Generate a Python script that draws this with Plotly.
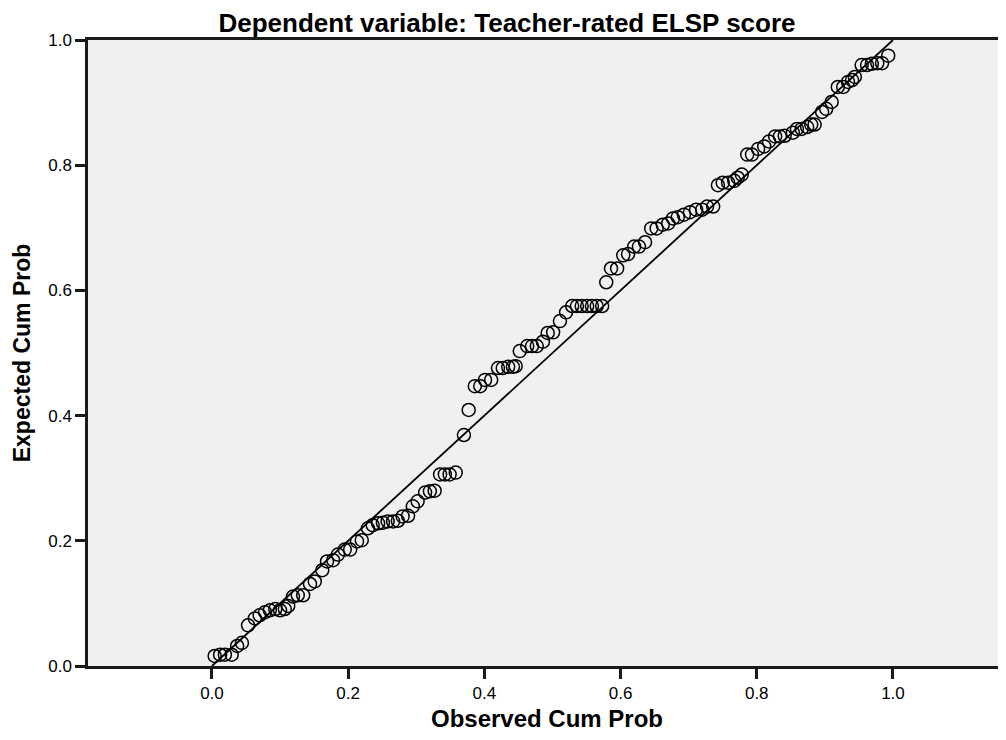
import plotly.graph_objects as go

observed = [0.004, 0.012, 0.019, 0.029, 0.037, 0.044, 0.053, 0.063, 0.070, 0.078,
            0.085, 0.093, 0.100, 0.107, 0.112, 0.119, 0.126, 0.134, 0.144, 0.151,
            0.162, 0.169, 0.178, 0.185, 0.195, 0.203, 0.213, 0.220, 0.229, 0.236,
            0.244, 0.251, 0.258, 0.266, 0.273, 0.280, 0.288, 0.295, 0.302, 0.313,
            0.320, 0.327, 0.335, 0.342, 0.349, 0.358, 0.370, 0.377, 0.386, 0.394,
            0.401, 0.410, 0.420, 0.427, 0.435, 0.442, 0.446, 0.452, 0.463, 0.470,
            0.477, 0.486, 0.493, 0.501, 0.511, 0.520, 0.529, 0.536, 0.543, 0.551,
            0.558, 0.565, 0.573, 0.579, 0.586, 0.595, 0.604, 0.611, 0.620, 0.627,
            0.636, 0.645, 0.653, 0.662, 0.670, 0.677, 0.684, 0.693, 0.702, 0.711,
            0.720, 0.727, 0.736, 0.743, 0.750, 0.758, 0.767, 0.772, 0.778, 0.786,
            0.793, 0.802, 0.811, 0.818, 0.827, 0.834, 0.841, 0.853, 0.859, 0.866,
            0.874, 0.880, 0.885, 0.896, 0.902, 0.910, 0.919, 0.927, 0.934, 0.940,
            0.944, 0.954, 0.962, 0.969, 0.977, 0.984, 0.993]

expected = [0.016, 0.018, 0.018, 0.018, 0.032, 0.037, 0.065, 0.076, 0.081, 0.086,
            0.089, 0.091, 0.089, 0.091, 0.096, 0.111, 0.113, 0.113, 0.131, 0.135,
            0.153, 0.167, 0.169, 0.178, 0.186, 0.186, 0.199, 0.201, 0.220, 0.225,
            0.228, 0.229, 0.231, 0.231, 0.232, 0.239, 0.240, 0.255, 0.263, 0.277,
            0.279, 0.280, 0.306, 0.306, 0.306, 0.309, 0.369, 0.409, 0.447, 0.447,
            0.457, 0.457, 0.476, 0.476, 0.478, 0.478, 0.479, 0.503, 0.511, 0.511,
            0.511, 0.518, 0.532, 0.533, 0.551, 0.565, 0.575, 0.575, 0.575, 0.575,
            0.575, 0.575, 0.575, 0.613, 0.635, 0.635, 0.656, 0.658, 0.670, 0.670,
            0.677, 0.699, 0.699, 0.705, 0.707, 0.715, 0.717, 0.721, 0.725, 0.729,
            0.729, 0.734, 0.734, 0.768, 0.772, 0.772, 0.775, 0.780, 0.785, 0.817,
            0.817, 0.826, 0.830, 0.838, 0.846, 0.846, 0.847, 0.852, 0.858, 0.858,
            0.861, 0.865, 0.865, 0.885, 0.890, 0.901, 0.925, 0.925, 0.933, 0.936,
            0.941, 0.960, 0.960, 0.962, 0.963, 0.963, 0.975]

ref_line = [0.0, 1.0]
tick_vals = [0.0, 0.2, 0.4, 0.6, 0.8, 1.0]
tick_text = ["0.0", "0.2", "0.4", "0.6", "0.8", "1.0"]

FONT = "Liberation Sans, Arial, sans-serif"

fig = go.Figure()
fig.add_trace(go.Scatter(
    x=ref_line, y=ref_line, mode="lines",
    line=dict(color="black", width=1.8),
    hoverinfo="skip", showlegend=False,
))
fig.add_trace(go.Scatter(
    x=observed, y=expected, mode="markers",
    marker=dict(symbol="circle-open", size=13, color="black",
                line=dict(color="black", width=1.5)),
    showlegend=False,
))

# page body has an 8px margin: figure is sized/offset to compensate
fig.update_layout(
    width=998, height=724,
    margin=dict(l=80, r=0, t=32, b=64),
    paper_bgcolor="white",
    plot_bgcolor="#F0F0F0",
    font=dict(family=FONT, color="black", size=17),
    title=dict(text="<b>Dependent variable: Teacher-rated ELSP score</b>",
               x=0.5, xanchor="center", y=0.979, yanchor="middle",
               font=dict(size=26, family=FONT, color="black")),
)
fig.update_xaxes(
    range=[-0.182, 1.166], tickvals=tick_vals, ticktext=tick_text,
    showgrid=False, zeroline=False,
    showline=True, linecolor="#1a1a1a", linewidth=2.5, mirror=True,
    ticks="outside", ticklen=10, tickwidth=2.5, tickcolor="#1a1a1a",
    tickfont=dict(size=17, family=FONT),
    title=dict(text="<b>Observed Cum Prob</b>", font=dict(size=24, family=FONT), standoff=12),
)
fig.update_yaxes(
    range=[0, 1], tickvals=tick_vals, ticktext=tick_text,
    showgrid=False, zeroline=False,
    showline=True, linecolor="#1a1a1a", linewidth=2.5,
    ticks="outside", ticklen=10, tickwidth=2.5, tickcolor="#1a1a1a",
    tickfont=dict(size=17, family=FONT),
    title=dict(text="<b>Expected Cum Prob</b>", font=dict(size=23, family=FONT), standoff=12),
)

fig.write_html("out.html")
